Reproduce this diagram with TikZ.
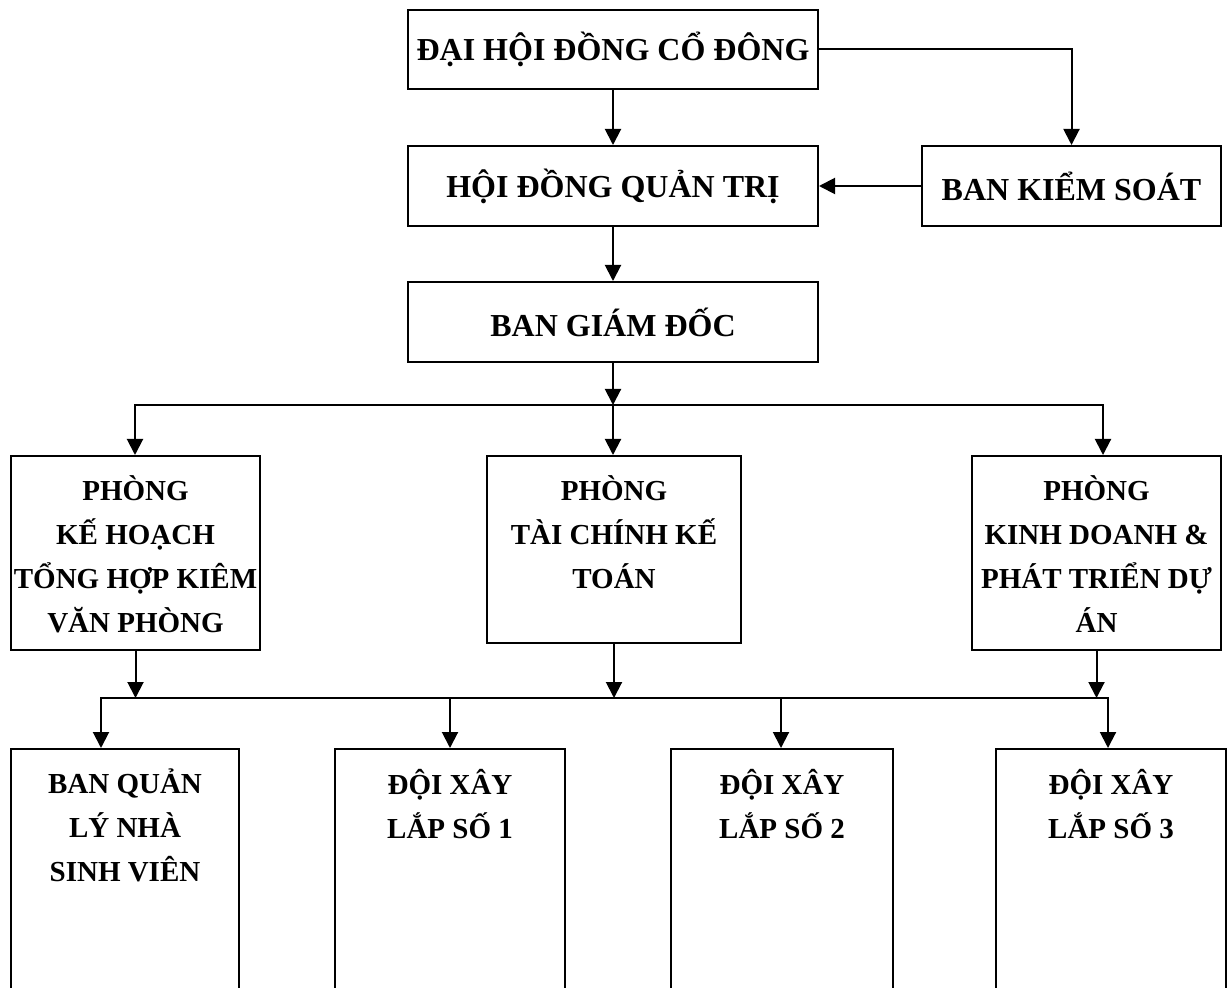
\documentclass[tikz,border=0pt]{standalone}
\usepackage{fontspec}
\setmainfont{Liberation Serif}
\usetikzlibrary{arrows.meta,positioning}
\begin{document}
\begin{tikzpicture}[>={Triangle[length=8pt,width=8pt]},x=0.5pt,y=-0.5pt,line width=1pt,
	khung/.style={draw,inner sep=0pt},
	chu/.style={font=\fontsize{16}{22}\selectfont\bfseries,align=center,inner sep=0pt},
	chutren/.style={chu,font=\fontsize{14.5}{22}\selectfont\bfseries,anchor=north,yshift=-10pt}]
		\useasboundingbox (0,0) rectangle (1230,988);
		\clip (0,0) rectangle (1230,988);
		\node[khung,chu,minimum width=205pt,minimum height=39.5pt] (dhcd) at (613,49.5) {ĐẠI HỘI ĐỒNG CỔ ĐÔNG};
		\node[khung,chu,minimum width=205pt,minimum height=40pt] (hdqt) at (613,186) {HỘI ĐỒNG QUẢN TRỊ};
		\node[khung,chu,minimum width=149.5pt,minimum height=40pt] (bks) at (1071.5,186) {BAN KIỂM SOÁT};
		\node[khung,chu,minimum width=205pt,minimum height=40pt] (bgd) at (613,322) {BAN GIÁM ĐỐC};
		\node[khung,minimum width=124.5pt,minimum height=97pt] (pkh) at (135.5,553) {};
		\node[khung,minimum width=127pt,minimum height=93.5pt] (ptc) at (614,549.5) {};
		\node[khung,minimum width=124.5pt,minimum height=97pt] (pkd) at (1096.5,553) {};
		\node[khung,minimum width=114pt,minimum height=130.5pt] (bql) at (125,879.5) {};
		\node[khung,minimum width=115pt,minimum height=130.5pt] (dx1) at (450,879.5) {};
		\node[khung,minimum width=111pt,minimum height=130.5pt] (dx2) at (782,879.5) {};
		\node[khung,minimum width=115pt,minimum height=130.5pt] (dx3) at (1111,879.5) {};
		\node[chutren] (tpkh) at (pkh.north) {PHÒNG\\KẾ HOẠCH\\TỔNG HỢP KIÊM\\VĂN PHÒNG};
		\node[chutren] (tptc) at (ptc.north) {PHÒNG\\TÀI CHÍNH KẾ\\TOÁN};
		\node[chutren] (tpkd) at (pkd.north) {PHÒNG\\KINH DOANH \&\\PHÁT TRIỂN DỰ\\ÁN};
		\node[chutren] (tbql) at (bql.north) {BAN QUẢN\\LÝ NHÀ\\SINH VIÊN};
		\node[chutren] (tdx1) at (dx1.north) {ĐỘI XÂY\\LẮP SỐ 1};
		\node[chutren] (tdx2) at (dx2.north) {ĐỘI XÂY\\LẮP SỐ 2};
		\node[chutren] (tdx3) at (dx3.north) {ĐỘI XÂY\\LẮP SỐ 3};
		\draw[->] (dhcd.east) -| (bks.north);
		\draw[->] (bks.west) -- (hdqt.east);
		\draw[->] (dhcd.south) -- (hdqt.north);
		\draw[->] (hdqt.south) -- (bgd.north);
		\coordinate (r1) at (135,405);
		\coordinate (r2) at (613,405);
		\coordinate (r3) at (1103,405);
		\draw[->] (bgd.south) -- (r2);
		\draw[->] (r2) -| (r1 |- pkh.north);
		\draw[->] (r2) -| (r3 |- pkd.north);
		\draw[->] (r2) -- (r2 |- ptc.north);
		\coordinate (n1) at (101,698);
		\coordinate (n2) at (450,698);
		\coordinate (n3) at (781,698);
		\coordinate (n4) at (1108,698);
		\coordinate (m) at (614,698);
		\draw[->] (pkh.south) -- (pkh.south |- m);
		\draw[->] (ptc.south) -- (m);
		\draw[->] (pkd.south) -- (pkd.south |- m);
		\draw[->] (m) -| (n1 |- bql.north);
		\draw[->] (m) -| (n4 |- dx3.north);
		\draw[->] (n2) -- (n2 |- dx1.north);
		\draw[->] (n3) -- (n3 |- dx2.north);
\end{tikzpicture}
\end{document}
